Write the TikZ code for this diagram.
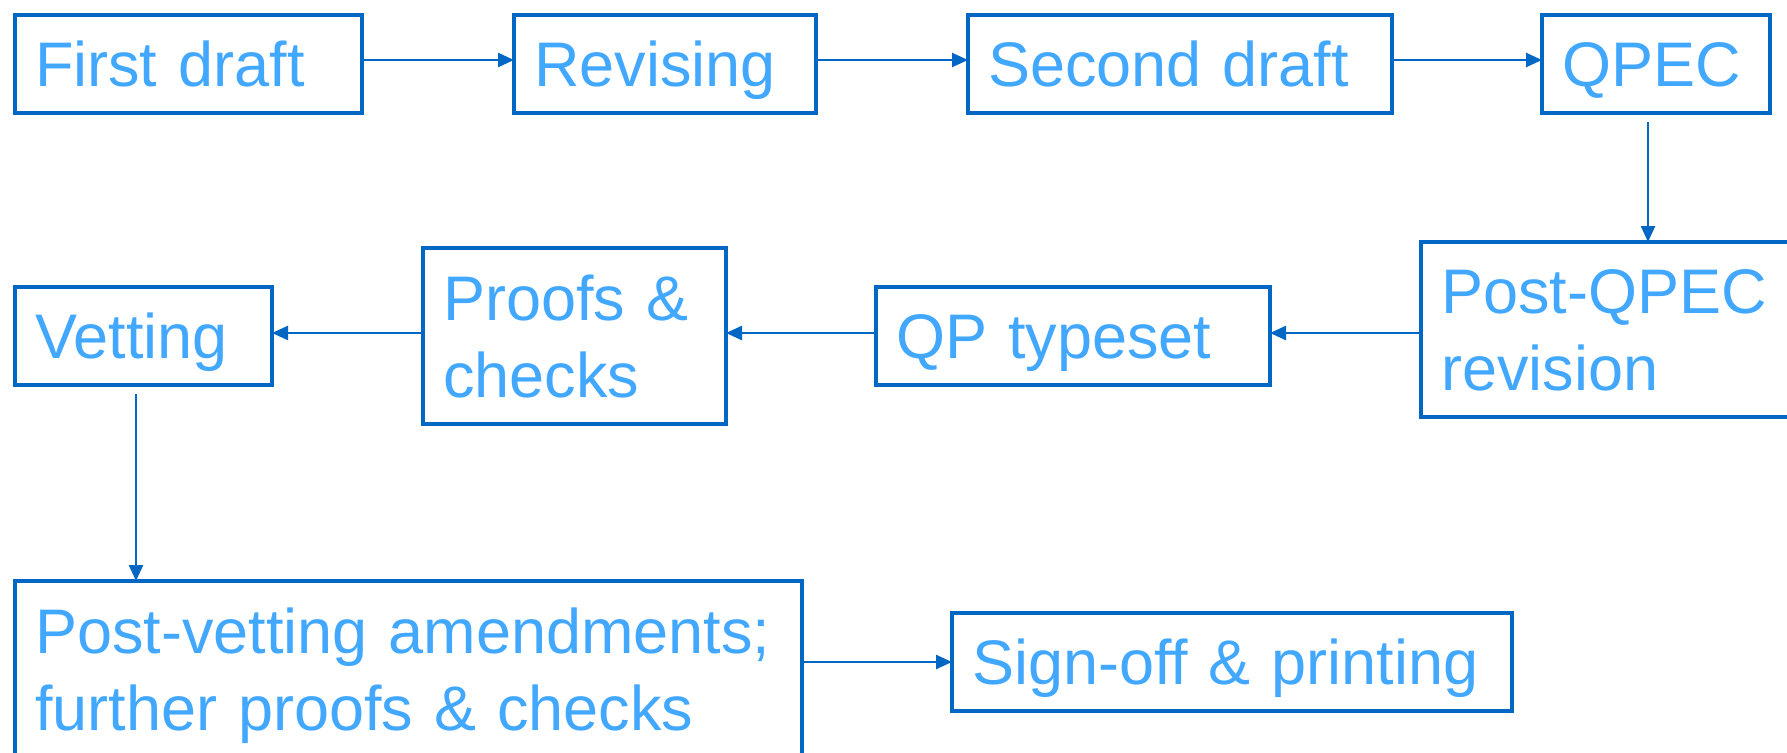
\documentclass[tikz,border=0pt]{standalone}
\usepackage{fontspec}
\setmainfont{Liberation Sans}
\usetikzlibrary{arrows.meta}
\definecolor{bordercol}{RGB}{0,104,196}
\definecolor{textcol}{RGB}{66,168,255}
\tikzset{
  box/.style={draw=bordercol, line width=3.5pt, text=textcol,
    font=\fontsize{63}{77}\selectfont, inner xsep=20pt, inner ysep=0pt,
    outer sep=0pt, anchor=north west, align=left},
  oneline/.style={text height=45pt, text depth=0pt},
  twoline/.style={text height=45pt, text depth=77pt},
  conn/.style={draw=bordercol, line width=2.5pt, -{Triangle[length=16pt,width=14pt]}}
}
\begin{document}
\begin{tikzpicture}[x=1pt,y=-1pt]
\useasboundingbox (0,0) rectangle (1787,752);
\clip (0,0) rectangle (1787,752);
% row 1
\node[box, oneline, minimum width=347pt, minimum height=98pt, text width=307pt] (fd) at (15,15) {First draft};
\node[box, oneline, minimum width=302pt, minimum height=98pt, text width=262pt] (rev) at (514,15) {Revising};
\node[box, oneline, minimum width=424pt, minimum height=98pt, text width=384pt] (sd) at (968,15) {Second draft};
\node[box, oneline, minimum width=228pt, minimum height=98pt, text width=188pt] (qpec) at (1542,15) {QPEC};
% row 2
\node[box, twoline, minimum width=409pt, minimum height=175pt, text width=369pt] (pq) at (1421,242) {Post-QPEC\\revision};
\node[box, oneline, minimum width=394pt, minimum height=98pt, text width=354pt] (qpt) at (876,287) {QP typeset};
\node[box, twoline, minimum width=303pt, minimum height=176pt, text width=263pt] (pc) at (423,248) {Proofs \&\\checks};
\node[box, oneline, minimum width=257pt, minimum height=98pt, text width=217pt] (vet) at (15,287) {Vetting};
% row 3
\node[box, twoline, minimum width=787pt, minimum height=176pt, text width=747pt] (pv) at (15,581) {Post-vetting amendments;\\further proofs \& checks};
\node[box, oneline, minimum width=560pt, minimum height=98pt, text width=520pt] (so) at (952,613) {Sign-off \& printing};
% helper coordinates
\coordinate (r1) at (0,60);
\coordinate (r2) at (0,333);
\coordinate (c1) at (1648,0);
\coordinate (c2) at (136,0);
% connectors
\draw[conn] (fd.east |- r1) -- (rev.west |- r1);
\draw[conn] (rev.east |- r1) -- (sd.west |- r1);
\draw[conn] (sd.east |- r1) -- (qpec.west |- r1);
\draw[conn] ([yshift=-9pt]qpec.south -| c1) -- (pq.north -| c1);
\draw[conn] (pq.west |- r2) -- (qpt.east |- r2);
\draw[conn] (qpt.west |- r2) -- (pc.east |- r2);
\draw[conn] (pc.west |- r2) -- (vet.east |- r2);
\draw[conn] ([yshift=-9pt]vet.south -| c2) -- (pv.north -| c2);
\draw[conn] (pv.east |- so.west) -- (so.west);
\end{tikzpicture}
\end{document}
